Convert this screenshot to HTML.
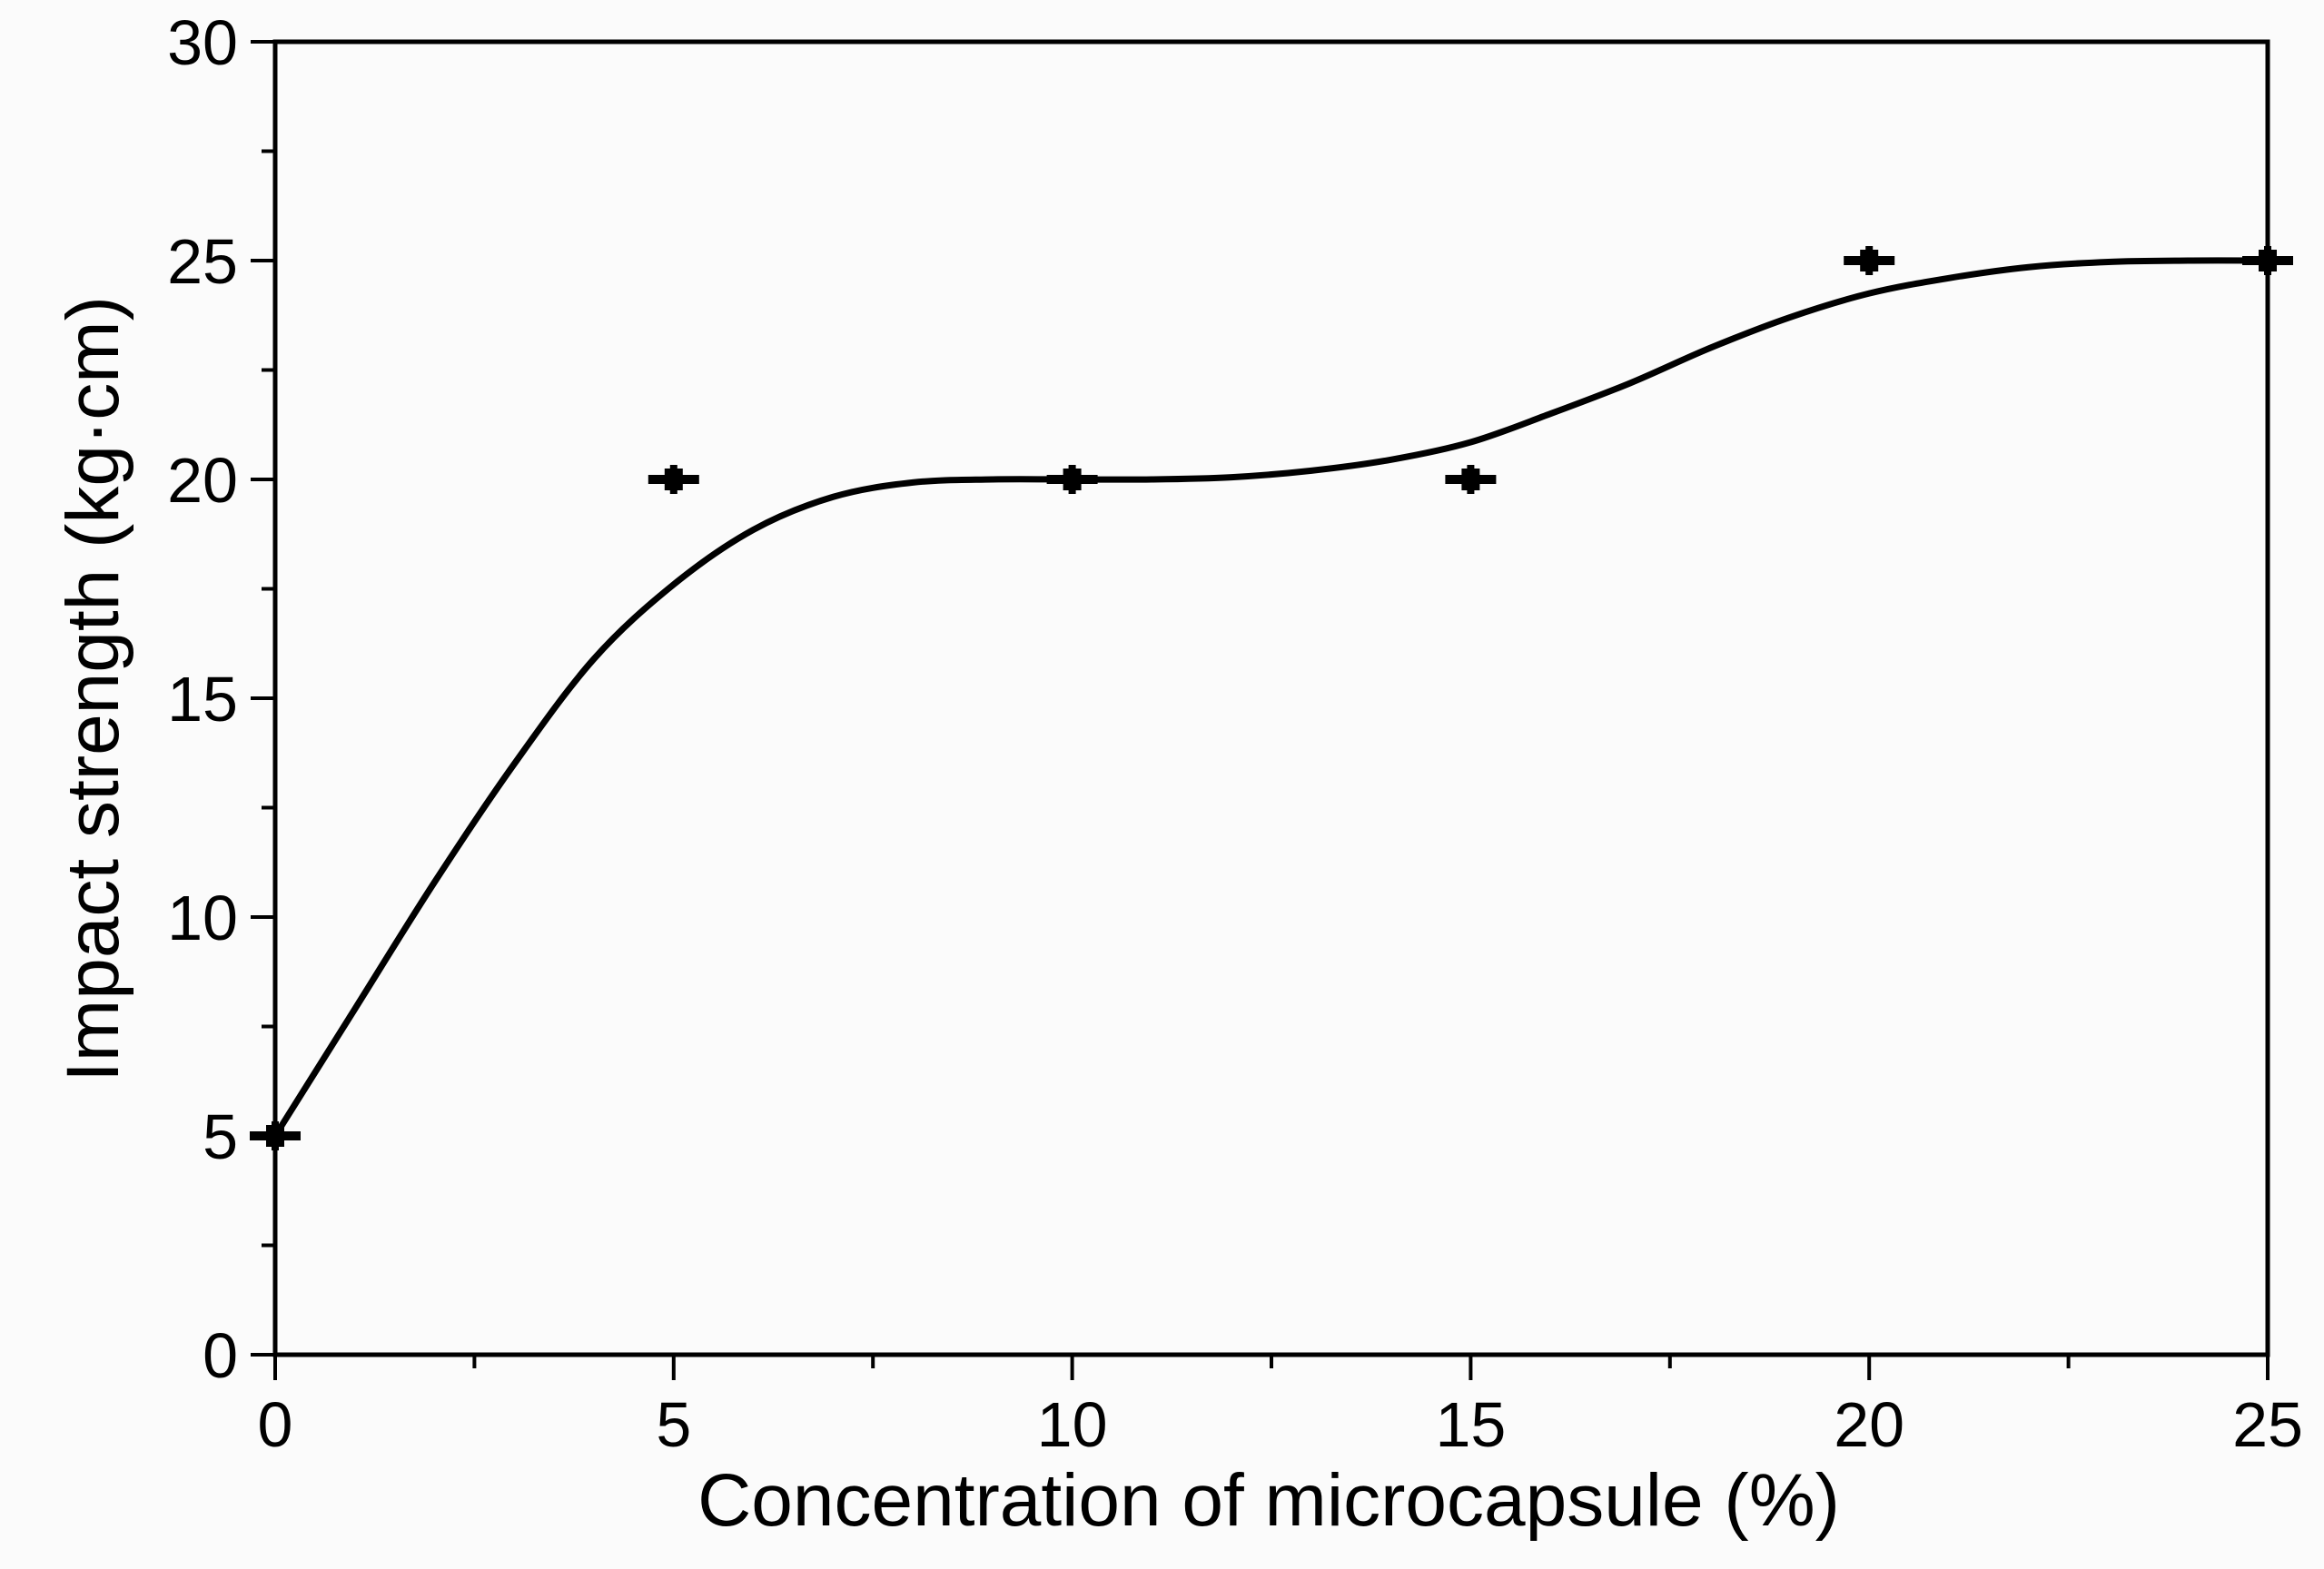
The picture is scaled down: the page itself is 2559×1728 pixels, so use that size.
<!DOCTYPE html>
<html><head><meta charset="utf-8"><style>
html,body{margin:0;padding:0;background:#fbfbfb;}
svg{display:block;font-family:"Liberation Sans",Arial,sans-serif;}
</style></head><body>
<svg id="chart" width="2559" height="1728" viewBox="0 0 2559 1728" xmlns="http://www.w3.org/2000/svg">
<rect width="2559" height="1728" fill="#fbfbfb"/>
<g id="axes"></g>
<g id="series"></g>
<text x="1397" y="1680" font-size="82" text-anchor="middle" fill="#000">Concentration of microcapsule (%)</text>
<text transform="translate(130,759) rotate(-90)" font-size="82" text-anchor="middle" fill="#000">Impact strength (kg·cm)</text>
</svg>
<script>
const xTicks = [0, 5, 10, 15, 20, 25];
const yTicks = [0, 5, 10, 15, 20, 25, 30];
const dataX = [0, 5, 10, 15, 20, 25];
const dataY = [5, 20, 20, 20, 25, 25];
const curveX = [0, 1, 2, 3, 4, 5, 6, 7, 8, 9, 10, 11, 12, 13, 14, 15, 16, 17, 18, 19, 20, 21, 22, 23, 24, 25];
const curveY = [5, 7.9, 10.8, 13.5, 15.9, 17.6, 18.85, 19.6, 19.93, 20.0, 20.0, 20.0, 20.05, 20.2, 20.45, 20.85, 21.5, 22.2, 23.0, 23.7, 24.25, 24.6, 24.85, 24.97, 25.0, 25.0];

const NS = "http://www.w3.org/2000/svg";
const L = 303, R = 2497, T = 46, B = 1492;
const sx = v => L + (v - 0) / 25 * (R - L);
const sy = v => B - (v - 0) / 30 * (B - T);
function mk(tag, attrs, parent) {
  const e = document.createElementNS(NS, tag);
  for (const k in attrs) e.setAttribute(k, attrs[k]);
  parent.appendChild(e);
  return e;
}
const axes = document.getElementById('axes');
const series = document.getElementById('series');

const frame = mk('rect', {x: L, y: T, width: R - L, height: B - T, fill: 'none', stroke: '#000', 'stroke-width': 5}, axes);



xTicks.forEach(v => {
  const t = mk('line', {x1: sx(v), x2: sx(v), y1: B, y2: B + 28, stroke: '#000', 'stroke-width': 4}, axes);
  
  
  const lb = mk('text', {x: sx(v), y: 1593, 'font-size': 70, 'text-anchor': 'middle', fill: '#000'}, axes);
  lb.textContent = v;
  
  
  if (v < 25) {
    const m = mk('line', {x1: sx(v + 2.5), x2: sx(v + 2.5), y1: B, y2: B + 15, stroke: '#000', 'stroke-width': 4}, axes);
    
    
  }
});
yTicks.forEach(v => {
  const t = mk('line', {x1: L - 27, x2: L, y1: sy(v), y2: sy(v), stroke: '#000', 'stroke-width': 4}, axes);
  
  
  const lb = mk('text', {x: 262, y: sy(v) + 25, 'font-size': 70, 'text-anchor': 'end', fill: '#000'}, axes);
  lb.textContent = v;
  
  
  if (v < 30) {
    const m = mk('line', {x1: L - 15, x2: L, y1: sy(v + 2.5), y2: sy(v + 2.5), stroke: '#000', 'stroke-width': 4}, axes);
    
    
  }
});

const pts = curveX.map((x, i) => [sx(x), sy(curveY[i])]);
let d = `M${pts[0][0]},${pts[0][1]}`;
for (let i = 0; i < pts.length - 1; i++) {
  const p0 = pts[Math.max(i - 1, 0)], p1 = pts[i], p2 = pts[i + 1], p3 = pts[Math.min(i + 2, pts.length - 1)];
  const c1 = [p1[0] + (p2[0] - p0[0]) / 6, p1[1] + (p2[1] - p0[1]) / 6];
  const c2 = [p2[0] - (p3[0] - p1[0]) / 6, p2[1] - (p3[1] - p1[1]) / 6];
  d += ` C${c1[0]},${c1[1]} ${c2[0]},${c2[1]} ${p2[0]},${p2[1]}`;
}
const curve = mk('path', {d: d, fill: 'none', stroke: '#000', 'stroke-width': 7}, series);



dataX.forEach((x, i) => {
  const g = mk('g', {}, series);
  
  
  const cx = sx(x), cy = sy(dataY[i]);
  mk('rect', {x: cx - 28, y: cy - 5, width: 56, height: 10, fill: '#000'}, g);
  mk('rect', {x: cx - 10, y: cy - 12, width: 20, height: 24, fill: '#000'}, g);
  mk('rect', {x: cx - 4, y: cy - 16, width: 8, height: 32, fill: '#000'}, g);
});
</script>
</body></html>
